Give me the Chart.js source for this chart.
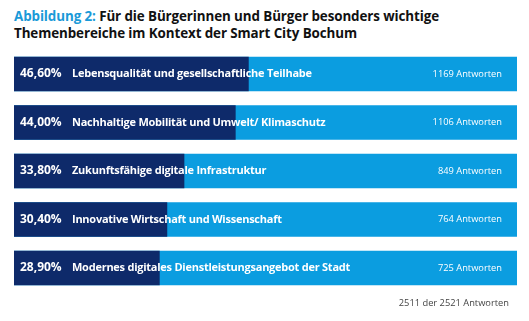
<!DOCTYPE html>
<html>
<head>
<meta charset="utf-8">
<script src="https://cdn.jsdelivr.net/npm/chart.js@4/dist/chart.umd.min.js"></script>
<style>
  html, body { margin: 0; padding: 0; background: #fff; }
  #wrap { position: relative; width: 529px; height: 321px; overflow: hidden; }
  #title { position: absolute; left: 14px; top: 8px; font-family: "Open Sans", sans-serif; font-weight: 700; font-size: 13.4px; line-height: 17px; color: #111; letter-spacing: -0.1px; }
  #title .lead { color: #1a9ad8; }
  #footer { position: absolute; right: 20px; top: 296px; font-family: "Open Sans", sans-serif; font-size: 9.3px; color: #444; }
  canvas { position: absolute; left: 0; top: 0; }
</style>
</head>
<body>
<div id="wrap">
  <div id="title"><span class="lead">Abbildung 2:</span> Für die Bürgerinnen und Bürger besonders wichtige<br>Themenbereiche im Kontext der Smart City Bochum</div>
  <canvas id="c" width="529" height="321"></canvas>
  <div id="footer">2511 der 2521 Antworten</div>
</div>
<script>
const categories = [
  "Lebensqualität und gesellschaftliche Teilhabe",
  "Nachhaltige Mobilität und Umwelt/ Klimaschutz",
  "Zukunftsfähige digitale Infrastruktur",
  "Innovative Wirtschaft und Wissenschaft",
  "Modernes digitales Dienstleistungsangebot der Stadt"
];
const percentValues = [46.6, 44.0, 33.8, 30.4, 28.9];
const answerCounts = [1169, 1106, 849, 764, 725];
const trackValues = [100, 100, 100, 100, 100];

const DARK = "#0e2a6a";
const LIGHT = "#0b9de0";

function fmtPct(v) { return v.toFixed(2).replace(".", ",") + "%"; }

const labelPlugin = {
  id: "barLabels",
  afterDatasetsDraw(chart) {
    const ctx = chart.ctx;
    const meta = chart.getDatasetMeta(0);
    const xs = chart.scales.x;
    ctx.save();
    ctx.textBaseline = "middle";
    meta.data.forEach((bar, i) => {
      const y = bar.y;
      const left = xs.getPixelForValue(0);
      const right = xs.getPixelForValue(100);
      ctx.fillStyle = "#ffffff";
      ctx.letterSpacing = "0px";
      ctx.font = "700 12px 'Open Sans', sans-serif";
      ctx.textAlign = "left";
      ctx.fillText(fmtPct(percentValues[i]), left + 6, y);
      ctx.font = "700 11px 'Open Sans', sans-serif";
      ctx.letterSpacing = "-0.25px";
      ctx.fillText(categories[i], left + 58, y);
      ctx.letterSpacing = "0px";
      ctx.font = "400 9.3px 'Open Sans', sans-serif";
      ctx.textAlign = "right";
      ctx.fillText(answerCounts[i] + " Antworten", right - 15, y);
    });
    ctx.restore();
  }
};

new Chart(document.getElementById("c"), {
  type: "bar",
  data: {
    labels: categories,
    datasets: [
      { data: percentValues, backgroundColor: DARK, order: 0, grouped: false, barThickness: 34, borderWidth: 0 },
      { data: trackValues, backgroundColor: LIGHT, order: 1, grouped: false, barThickness: 34, borderWidth: 0 }
    ]
  },
  options: {
    indexAxis: "y",
    responsive: false,
    animation: false,
    events: [],
    layout: { padding: { left: 14, right: 12, top: 49.75, bottom: 28.75 } },
    scales: {
      x: { display: false, min: 0, max: 100 },
      y: { display: false }
    },
    plugins: { legend: { display: false }, tooltip: { enabled: false } }
  },
  plugins: [labelPlugin]
});
</script>
</body>
</html>
